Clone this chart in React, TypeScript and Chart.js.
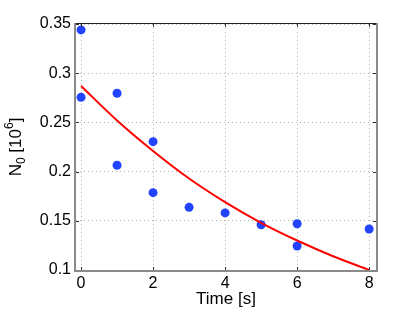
import React, { useEffect, useRef } from "react";
import { Chart, registerables } from "chart.js";

Chart.register(...registerables);

// Measured data points (Time [s], N0 [10^6])
const dataTime = [0, 0, 1, 1, 2, 2, 3, 4, 5, 6, 6, 8];
const dataN0 = [0.344, 0.2755, 0.2796, 0.2064, 0.2304, 0.1786, 0.1637, 0.158, 0.146, 0.147, 0.1244, 0.1417];

// Fitted curve, values
const fitTime = [0, 1, 2, 3, 4, 5, 6, 7, 8];
const fitN0 = [0.287, 0.252, 0.221, 0.193, 0.169, 0.148, 0.130, 0.114, 0.100];

const xTicks = [0, 2, 4, 6, 8];
const yTicks = [0.1, 0.15, 0.2, 0.25, 0.3, 0.35];
const xTickLabels = ["0", "2", "4", "6", "8"];
const yTickLabels = ["0.1", "0.15", "0.2", "0.25", "0.3", "0.35"];

const xLabel = "Time [s]";
const FONT = "'Liberation Sans', Arial, Helvetica, sans-serif";

const framePlugin = {
  id: "frame",
  afterDraw(chart: any) {
    const { ctx, chartArea } = chart;
    const { left, right, top, bottom } = chartArea;
    const xs = chart.scales.x;
    const ys = chart.scales.y;
    ctx.save();
    // inner ticks
    ctx.strokeStyle = "#333";
    ctx.lineWidth = 1;
    const tl = 3;
    xTicks.forEach((v) => {
      const px = Math.round(xs.getPixelForValue(v)) + 0.5;
      ctx.beginPath();
      ctx.moveTo(px, bottom);
      ctx.lineTo(px, bottom - tl);
      ctx.moveTo(px, top);
      ctx.lineTo(px, top + tl);
      ctx.stroke();
    });
    yTicks.forEach((v) => {
      const py = Math.round(ys.getPixelForValue(v)) + 0.5;
      ctx.beginPath();
      ctx.moveTo(left, py);
      ctx.lineTo(left + tl, py);
      ctx.moveTo(right, py);
      ctx.lineTo(right - tl, py);
      ctx.stroke();
    });
    // box
    ctx.strokeStyle = "#222";
    ctx.lineWidth = 1;
    ctx.beginPath();
    ctx.moveTo(left, top - 0.5);
    ctx.lineTo(right, top - 0.5);
    ctx.stroke();
    ctx.strokeStyle = "#8a8a8a";
    ctx.lineWidth = 2;
    ctx.beginPath();
    ctx.moveTo(left - 1, top - 1);
    ctx.lineTo(left - 1, bottom + 1);
    ctx.lineTo(right + 1, bottom + 1);
    ctx.lineTo(right + 1, top - 1);
    ctx.stroke();

    // x label
    ctx.fillStyle = "#000";
    ctx.font = `17px ${FONT}`;
    ctx.textAlign = "center";
    ctx.textBaseline = "alphabetic";
    ctx.fillText(xLabel, (left + right) / 2, 304);

    // y label: N_0 [10^6]
    const big = `17px ${FONT}`;
    const small = `12px ${FONT}`;
    const parts = [
      { t: "N", f: big, dy: 0 },
      { t: "0", f: small, dy: 4 },
      { t: " [10", f: big, dy: 0 },
      { t: "6", f: small, dy: -8 },
      { t: "]", f: big, dy: 0 },
    ];
    let total = 0;
    parts.forEach((p) => {
      ctx.font = p.f;
      total += ctx.measureText(p.t).width;
    });
    ctx.translate(21, (top + bottom) / 2);
    ctx.rotate(-Math.PI / 2);
    ctx.textAlign = "left";
    let x = -total / 2;
    parts.forEach((p) => {
      ctx.font = p.f;
      ctx.fillText(p.t, x, p.dy);
      x += ctx.measureText(p.t).width;
    });
    ctx.restore();
  },
};

export default function App() {
  const ref = useRef<HTMLCanvasElement>(null);
  useEffect(() => {
    if (!ref.current) return;
    const chart = new Chart(ref.current, {
      type: "scatter",
      data: {
        datasets: [
          {
            type: "line",
            label: "fit",
            data: fitTime.map((t, i) => ({ x: t, y: fitN0[i] })),
            borderColor: "#ff0000",
            borderWidth: 2,
            pointRadius: 0,
            cubicInterpolationMode: "monotone",
            fill: false,
            order: 0,
          } as any,
          {
            type: "scatter",
            label: "data",
            data: dataTime.map((t, i) => ({ x: t, y: dataN0[i] })),
            backgroundColor: "#2244ff",
            borderColor: "#2244ff",
            pointRadius: 4.5,
            borderWidth: 0,
            order: 1,
          } as any,
        ],
      },
      options: {
        responsive: false,
        animation: false,
        layout: { padding: { top: 24, right: 39, left: 0, bottom: 0 } },
        plugins: { legend: { display: false }, tooltip: { enabled: false } },
        scales: {
          x: {
            type: "linear",
            min: -0.14,
            max: 8.19,
            afterBuildTicks: (s: any) => {
              s.ticks = xTicks.map((v) => ({ value: v }));
            },
            afterFit: (s: any) => {
              s.height = 43;
            },
            border: { display: false },
            grid: {
              color: "#b0b0b0",
              lineWidth: 1,
              drawTicks: false,
              tickBorderDash: [1, 3],
            },
            ticks: {
              color: "#000",
              font: { family: FONT, size: 16 },
              padding: 4,
              maxRotation: 0,
              autoSkip: false,
              callback: (v: any) => {
                const i = xTicks.indexOf(Number(v));
                return i >= 0 ? xTickLabels[i] : "";
              },
            },
          },
          y: {
            type: "linear",
            min: 0.1,
            max: 0.35,
            afterBuildTicks: (s: any) => {
              s.ticks = yTicks.map((v) => ({ value: v }));
            },
            afterFit: (s: any) => {
              s.width = 76;
            },
            border: { display: false },
            grid: {
              color: "#b0b0b0",
              lineWidth: 1,
              drawTicks: false,
            },
            ticks: {
              color: "#000",
              font: { family: FONT, size: 16 },
              padding: 5,
              autoSkip: false,
              callback: (v: any) => {
                const i = yTicks.findIndex((t) => Math.abs(t - Number(v)) < 1e-9);
                return i >= 0 ? yTickLabels[i] : "";
              },
            },
          },
        },
      },
      plugins: [framePlugin],
    });
    // dotted grid
    (chart.options.scales as any).x.border = { display: false, dash: [1, 3] };
    (chart.options.scales as any).y.border = { display: false, dash: [1, 3] };
    chart.update();
    return () => chart.destroy();
  }, []);
  return (
    <div style={{ position: "absolute", left: 0, top: 0, width: 415, height: 313, background: "#fff" }}>
      <canvas ref={ref} width={415} height={313} style={{ width: 415, height: 313 }} />
    </div>
  );
}
